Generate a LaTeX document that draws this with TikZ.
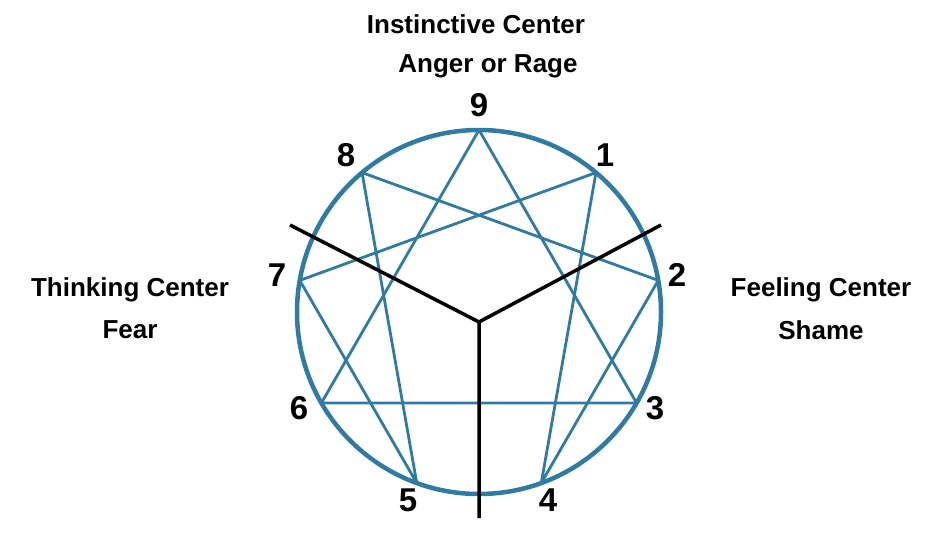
\documentclass[tikz,border=0pt]{standalone}
\usepackage{fontspec}
\setmainfont{Liberation Sans}
\begin{document}
\begin{tikzpicture}[x=1pt,y=-1pt,
  lbl/.style={font=\bfseries\fontsize{26}{30}\selectfont},
  num/.style={font=\bfseries\fontsize{33}{36}\selectfont},
  star/.style={draw=enn,line width=2.8pt,line join=round},
  divider/.style={draw=black,line width=3.5pt}]
\definecolor{enn}{HTML}{2F7BA3}
\useasboundingbox (0,0) rectangle (949,532);
\coordinate (c) at (479,312);
\foreach \n in {0,...,8}{
  \coordinate (p\n) at ({479+182*cos(90-40*\n)},{312-182*sin(90-40*\n)});
}
\draw[star] (p0) -- (p3) -- (p6) -- cycle;
\draw[star] (p1) -- (p4) -- (p2) -- (p8) -- (p5) -- (p7) -- cycle;
\draw[enn,line width=4.5pt] (c) circle (182);
\coordinate (m) at (479,322);
\coordinate (dl) at (290,225);
\coordinate (dr) at (661,225);
\coordinate (db) at (479,518);
\draw[divider] (dl) -- (m) -- (dr) (m) -- (db);
\node[num] (n9) at (479,105) {9};
\node[num] (n1) at (605,155) {1};
\node[num] (n8) at (346,155) {8};
\node[num] (n2) at (677,275) {2};
\node[num] (n7) at (277,275) {7};
\node[num] (n3) at (655,408) {3};
\node[num] (n6) at (299,408) {6};
\node[num] (n5) at (408,500) {5};
\node[num] (n4) at (548,500) {4};
\node[lbl] (ic) at (476,24) {Instinctive Center};
\node[lbl] (ar) at (488,66) {Anger or Rage};
\node[lbl] (tc) at (130,290) {Thinking Center};
\node[lbl] (fe) at (130,330) {Fear};
\node[lbl] (fc) at (821,290) {Feeling Center};
\node[lbl] (sh) at (821,330) {Shame};
\end{tikzpicture}
\end{document}
